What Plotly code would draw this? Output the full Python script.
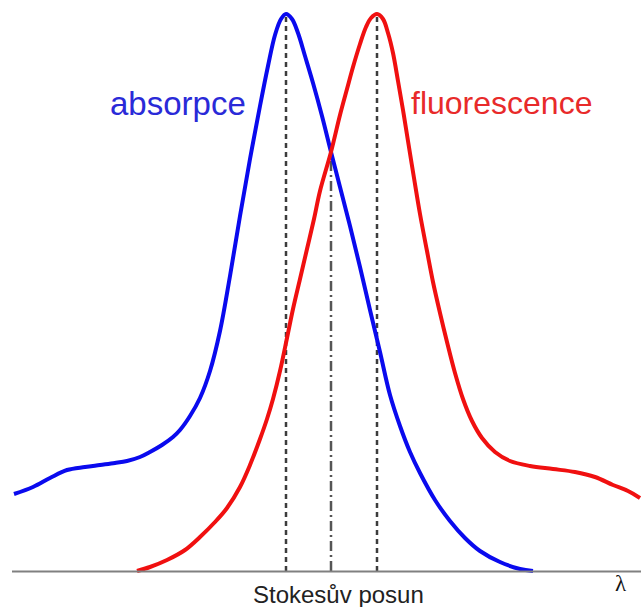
import numpy as np
import plotly.graph_objects as go

# Relative wavelength (arbitrary units) and intensity (arbitrary units)
abs_x = [14, 33, 50, 67, 85, 100, 115, 127, 140, 150, 162, 173, 180, 190, 200,
         210, 220, 230, 240, 250, 260, 268, 275, 281, 286, 292, 298, 305, 313,
         322, 331, 340, 350, 360, 370, 380, 390, 400, 410, 420, 435, 450, 465,
         480, 500, 520, 533]
abs_y = [77, 84, 93, 101, 104, 106, 108, 110, 114, 119, 126, 134, 141, 155, 173,
         200, 240, 295, 355, 412, 465, 505, 536, 552, 557, 552, 538, 515, 488,
         455, 419, 384, 345, 304, 261, 219, 176, 145, 119, 98, 71, 50, 33,
         20, 9, 2, 0]

fl_x = [137, 150, 167, 185, 200, 215, 227, 240, 250, 260, 267, 273, 280, 287,
        293, 300, 307, 314, 320, 331, 340, 347, 353, 360, 366, 371, 377, 383,
        388, 393, 398, 403, 408, 414, 420, 427, 433, 440, 447, 455, 463, 472,
        482, 495, 510, 530, 553, 575, 595, 613, 628, 640]
fl_y = [0, 4, 11, 21, 34, 49, 63, 84, 106, 132, 152, 172, 200, 233, 262, 292,
        322, 352, 380, 419, 456, 482, 504, 527, 544, 553, 557, 552, 538, 518,
        490, 461, 430, 393, 357, 320, 289, 258, 229, 198, 172, 150, 133, 119,
        110, 105, 102, 99, 94, 86, 80, 73]

# Crossing point of the two spectra
cross_x, cross_y = 331, 419

abs_peak = int(np.argmax(abs_y))
fl_peak = int(np.argmax(fl_y))

fig = go.Figure()

dash_col = "#3c3c3c"
for px, py in [(abs_x[abs_peak], abs_y[abs_peak]), (fl_x[fl_peak], fl_y[fl_peak])]:
    fig.add_trace(go.Scatter(x=[px, px], y=[0, py - 3], mode="lines",
                             line=dict(color=dash_col, width=2.5, dash="5px,4px"),
                             hoverinfo="skip"))
fig.add_trace(go.Scatter(x=[cross_x, cross_x], y=[0, cross_y], mode="lines",
                         line=dict(color="#555555", width=2.5, dash="10px,4px,2px,4px"),
                         hoverinfo="skip"))

fig.add_trace(go.Scatter(x=abs_x, y=abs_y, mode="lines",
                         line=dict(color="#0a0aee", width=4, shape="spline", smoothing=1.0),
                         name="absorpce"))
fig.add_trace(go.Scatter(x=fl_x, y=fl_y, mode="lines",
                         line=dict(color="#f01010", width=4, shape="spline", smoothing=1.0),
                         name="fluorescence"))

# Wavelength axis
fig.add_shape(type="line", x0=12, x1=641, y0=-0.5, y1=-0.5, xref="x", yref="y",
              line=dict(color="#808080", width=2))

fig.add_annotation(x=178, y=468, text="absorpce", showarrow=False,
                   font=dict(family="Liberation Sans, Arial", size=33, color="#2a2ad8"),
                   xanchor="center", yanchor="middle")
fig.add_annotation(x=501, y=468, text="fluorescence", showarrow=False,
                   font=dict(family="Liberation Sans, Arial", size=32, color="#e82a2a"),
                   xanchor="center", yanchor="middle")
fig.add_annotation(x=338, y=-23.5, text="Stokesův posun", showarrow=False,
                   font=dict(family="Liberation Sans, Arial", size=24, color="#222222"),
                   xanchor="center", yanchor="middle")
fig.add_annotation(x=621, y=-12, text="λ", showarrow=False,
                   font=dict(family="Liberation Serif, Times New Roman", size=23, color="#111111"),
                   xanchor="center", yanchor="middle")

fig.update_layout(
    width=641, height=607,
    margin=dict(l=0, r=0, t=0, b=0),
    paper_bgcolor="white", plot_bgcolor="white",
    showlegend=False,
    xaxis=dict(range=[0, 641], visible=False, fixedrange=True),
    yaxis=dict(range=[-36, 571], visible=False, fixedrange=True),
)

fig.write_html("out.html")
